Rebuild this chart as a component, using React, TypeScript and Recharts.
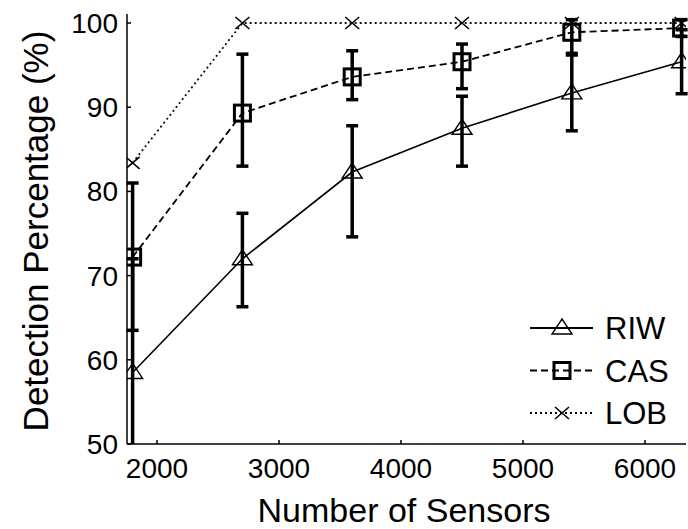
import { ErrorBar, Legend, Line, LineChart, XAxis, YAxis } from 'recharts'

// values
const sensors = [1800, 2700, 3600, 4500, 5400, 6300]
const riw = [58.5, 72, 82.3, 87.5, 91.7, 95.4]
const riwLow = [45, 66.3, 74.6, 83.0, 87.2, 91.6]
const riwHigh = [72, 77.4, 87.8, 91.3, 96.2, 99.2]
const cas = [72.2, 89.3, 93.6, 95.4, 98.9, 99.4]
const casLow = [63.5, 83, 90.9, 92.2, 96.4, 98.4]
const casHigh = [81, 96.3, 96.7, 97.5, 100.4, 100.4]
const lob = [83.4, 100, 100, 100, 100, 100]
const xTicks = [2000, 3000, 4000, 5000, 6000]
const yTicks = [50, 60, 70, 80, 90, 100]

const data = sensors.map((n, i) => ({
  n,
  riw: riw[i],
  riwErr: [riw[i] - riwLow[i], riwHigh[i] - riw[i]],
  cas: cas[i],
  casErr: [cas[i] - casLow[i], casHigh[i] - cas[i]],
  lob: lob[i],
}))

const FONT = '"Liberation Sans", Arial, Helvetica, sans-serif'
const X_DOMAIN: [number, number] = [1754, 6336]
const Y_DOMAIN: [number, number] = [50, 101.07]

function Triangle({ cx, cy }: { cx: number; cy: number }) {
  return (
    <path
      d={`M${cx},${cy - 9} L${cx + 10},${cy + 6} L${cx - 10},${cy + 6} Z`}
      fill="none"
      stroke="#000"
      strokeWidth={1.4}
    />
  )
}

function Square({ cx, cy }: { cx: number; cy: number }) {
  return <rect x={cx - 8} y={cy - 8} width={16} height={16} fill="none" stroke="#000" strokeWidth={3} />
}

function Cross({ cx, cy }: { cx: number; cy: number }) {
  return (
    <path
      d={`M${cx - 7},${cy - 6} L${cx + 7},${cy + 6} M${cx - 7},${cy + 6} L${cx + 7},${cy - 6}`}
      stroke="#000"
      strokeWidth={1.6}
    />
  )
}

const dotFn = (Comp: typeof Triangle, tag: string) => (p: any) =>
  p.cx == null ? <g key={`${tag}-${p.index}`} /> : <Comp key={`${tag}-${p.index}`} cx={p.cx} cy={p.cy} />

const legendRows = [
  { name: 'RIW', dash: undefined as string | undefined, Mark: Triangle },
  { name: 'CAS', dash: '7 4', Mark: Square },
  { name: 'LOB', dash: '2 3', Mark: Cross },
]

function LegendBox() {
  return (
    <svg width={160} height={130}>
      {legendRows.map((r, i) => {
        const cy = 23 + i * 42.5
        return (
          <g key={r.name}>
            <line x1={5} x2={68} y1={cy} y2={cy} stroke="#000" strokeWidth={2} strokeDasharray={r.dash} />
            <r.Mark cx={37} cy={cy} />
            <text x={80} y={cy + 11} fontSize={31} fontFamily={FONT} fill="#000">
              {r.name}
            </text>
          </g>
        )
      })}
    </svg>
  )
}

export default function App() {
  return (
    <div style={{ position: 'absolute', left: 0, top: 0, background: '#fff' }}>
      {/* plot-area clip for the error bars (chart coordinates) */}
      <svg width={0} height={0} style={{ position: 'absolute' }}>
        <defs>
          <clipPath id="plotClip" clipPathUnits="userSpaceOnUse">
            <rect x={120} y={14} width={570} height={430} />
          </clipPath>
        </defs>
      </svg>
      <LineChart width={688} height={529} data={data} margin={{ top: 14, right: 2, bottom: 0, left: 0 }}>
        <XAxis
          dataKey="n"
          type="number"
          domain={X_DOMAIN}
          allowDataOverflow
          ticks={xTicks}
          height={85}
          stroke="#000"
          strokeWidth={1.5}
          tickSize={-4}
          tickMargin={18}
          tick={{ fill: '#000', fontSize: 28, fontFamily: FONT }}
          label={{
            content: () => (
              <text x={404} y={522} textAnchor="middle" fontSize={34} fontFamily={FONT} fill="#000">
                Number of Sensors
              </text>
            ),
          }}
        />
        <XAxis
          xAxisId="top"
          orientation="top"
          type="number"
          domain={X_DOMAIN}
          allowDataOverflow
          ticks={xTicks}
          height={0}
          stroke="#000"
          strokeWidth={1.5}
          tickSize={-4}
          tickFormatter={() => ''}
        />
        <YAxis
          type="number"
          domain={Y_DOMAIN}
          allowDataOverflow
          ticks={yTicks}
          width={127}
          stroke="#000"
          strokeWidth={1.5}
          tickSize={-4}
          tickMargin={13}
          tick={{ fill: '#000', fontSize: 28, fontFamily: FONT }}
          label={{
            content: () => (
              <text
                x={35}
                y={231}
                transform="rotate(-90, 35, 231)"
                textAnchor="middle"
                dominantBaseline="central"
                fontSize={35}
                fontFamily={FONT}
                fill="#000"
              >
                Detection Percentage (%)
              </text>
            ),
          }}
        />
        <YAxis
          yAxisId="right"
          orientation="right"
          type="number"
          domain={Y_DOMAIN}
          allowDataOverflow
          ticks={yTicks}
          width={0}
          stroke="#000"
          strokeWidth={1.5}
          tickSize={-4}
          tickFormatter={() => ''}
        />
        <Line
          dataKey="lob"
          stroke="#111"
          strokeWidth={1.8}
          strokeDasharray="2 3"
          dot={dotFn(Cross, 'x')}
          activeDot={false}
          isAnimationActive={false}
        />
        <Line
          dataKey="cas"
          stroke="#000"
          strokeWidth={1.8}
          strokeDasharray="7 4"
          dot={dotFn(Square, 's')}
          activeDot={false}
          isAnimationActive={false}
        >
          <ErrorBar
            dataKey="casErr"
            width={6}
            stroke="#000"
            strokeWidth={3.5}
            direction="y"
            clipPath="url(#plotClip)"
          />
        </Line>
        <Line
          dataKey="riw"
          stroke="#000"
          strokeWidth={1.6}
          dot={dotFn(Triangle, 't')}
          activeDot={false}
          isAnimationActive={false}
        >
          <ErrorBar
            dataKey="riwErr"
            width={6}
            stroke="#000"
            strokeWidth={3.5}
            direction="y"
            clipPath="url(#plotClip)"
          />
        </Line>
        <Legend
          layout="vertical"
          align="center"
          verticalAlign="middle"
          wrapperStyle={{ left: 525, top: 305, width: 160, height: 130 }}
          content={() => <LegendBox />}
        />
      </LineChart>
    </div>
  )
}
